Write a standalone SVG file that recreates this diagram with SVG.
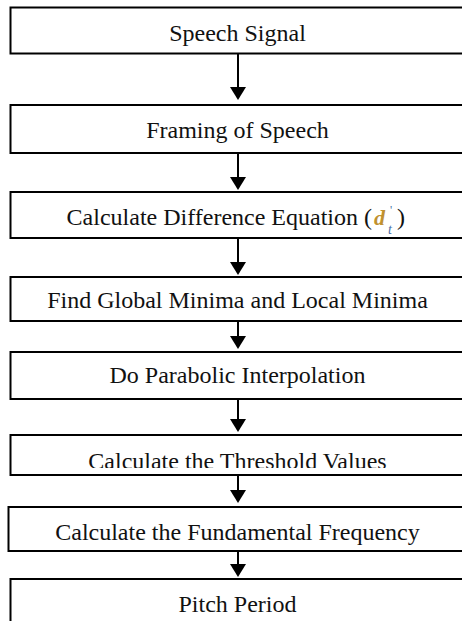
<svg xmlns="http://www.w3.org/2000/svg" width="462" height="621" viewBox="0 0 462 621">
<style>
.box{fill:#fff;stroke:#000;stroke-width:2}
.lbl{font-family:"Liberation Serif","Times New Roman",serif;font-size:24px;fill:#111;text-anchor:middle}
.frm{font-family:"Liberation Serif","Times New Roman",serif}
.conn line{stroke:#000;stroke-width:2}
</style>
<defs>
<clipPath id="c6"><rect x="0" y="436" width="470" height="32"/></clipPath>
<clipPath id="c7"><rect x="0" y="508" width="470" height="42"/></clipPath>
</defs>
<rect width="462" height="621" fill="#fff"/>
<g id="connectors" class="conn">
<path d="M230,87 L246,87 L238,100 Z"/>
<line x1="238" y1="54" x2="238" y2="88"/>
<path d="M230,177 L246,177 L238,190 Z"/>
<line x1="238" y1="153" x2="238" y2="178"/>
<path d="M230,262 L246,262 L238,275 Z"/>
<line x1="238" y1="238" x2="238" y2="263"/>
<path d="M230,336 L246,336 L238,349 Z"/>
<line x1="238" y1="321" x2="238" y2="337"/>
<path d="M230,419 L246,419 L238,432 Z"/>
<line x1="238" y1="399" x2="238" y2="420"/>
<path d="M230,490 L246,490 L238,503 Z"/>
<line x1="238" y1="475" x2="238" y2="491"/>
<path d="M230,564 L246,564 L238,577 Z"/>
<line x1="238" y1="551" x2="238" y2="565"/>
</g>
<g id="n1"><rect class="box" x="10.5" y="7.5" width="470" height="46"/><text class="lbl" x="237.5" y="41">Speech Signal</text></g>
<g id="n2"><rect class="box" x="10.5" y="105" width="470" height="48"/><text class="lbl" x="237.5" y="138">Framing of Speech</text></g>
<g id="n3"><rect class="box" x="10.5" y="192" width="470" height="46"/>
<text class="lbl" x="372" y="225" style="text-anchor:end">Calculate Difference Equation (</text>
<text class="frm" x="374" y="225" style="font-size:22px;font-style:italic;font-weight:bold;fill:#c0912f">d</text>
<text class="frm" x="390" y="214" style="font-size:12px;fill:#4a6fa5">'</text>
<text class="frm" x="388" y="234" style="font-size:14px;font-style:italic;fill:#4a6fa5">t</text>
<text class="frm" x="397" y="225" style="font-size:24px;fill:#111">)</text>
</g>
<g id="n4"><rect class="box" x="10.5" y="277" width="470" height="44"/><text class="lbl" x="237.5" y="308">Find Global Minima and Local Minima</text></g>
<g id="n5"><rect class="box" x="10.5" y="352" width="470" height="47"/><text class="lbl" x="237.5" y="383">Do Parabolic Interpolation</text></g>
<g id="n6"><rect class="box" x="10.5" y="435" width="470" height="40"/><text class="lbl" x="237.5" y="469" clip-path="url(#c6)">Calculate the Threshold Values</text></g>
<g id="n7"><rect class="box" x="8.5" y="507" width="470" height="44"/><text class="lbl" x="237.5" y="540" clip-path="url(#c7)">Calculate the Fundamental Frequency</text></g>
<g id="n8"><rect class="box" x="10.5" y="579" width="470" height="50"/><text class="lbl" x="237.5" y="612">Pitch Period</text></g>
</svg>
